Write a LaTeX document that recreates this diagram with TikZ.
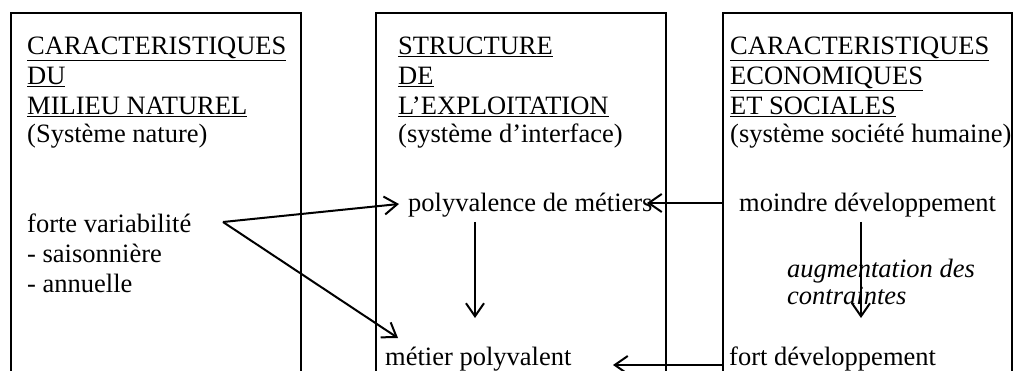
\documentclass[tikz,border=0pt]{standalone}
\usepackage{fontspec}
\setmainfont{Liberation Serif}
\usetikzlibrary{arrows.meta}
\begin{document}
\begin{tikzpicture}[x=1pt,y=-1pt,
 txt/.style={anchor=base west,inner sep=0pt,font=\fontsize{26.5}{30}\selectfont},
 ittxt/.style={anchor=base west,inner sep=0pt,font=\fontsize{26.5}{30}\selectfont\itshape},
 boxline/.style={line width=2.2pt},
 arr/.style={line width=2pt,-{Straight Barb[length=13pt,width=18pt,line width=2pt]}}]
\useasboundingbox (0,0) rectangle (1017,371);
\begin{scope}
\clip (0,0) rectangle (1017,371);
% boxes (open at the bottom)
\draw[boxline] (11,390) -- (11,13) -- (301,13) -- (301,390);
\draw[boxline] (376,390) -- (376,13) -- (666,13) -- (666,390);
\draw[boxline] (723,390) -- (723,13) -- (1012,13) -- (1012,390);

% box 1
\node[txt] (t1a) at (27,55) {\underline{CARACTERISTIQUES}};
\node[txt] (t1b) at (27,85) {\underline{DU}};
\node[txt] (t1c) at (27,115) {\underline{MILIEU NATUREL}};
\node[txt] (t1d) at (27,143) {(Système nature)};
\node[txt] (fv) at (27,233) {forte variabilité};
\node[txt] (sais) at (27,263) {- saisonnière};
\node[txt] (ann) at (27,292) {- annuelle};

% box 2
\node[txt] (t2a) at (398,55) {\underline{STRUCTURE}};
\node[txt] (t2b) at (398,85) {\underline{DE}};
\node[txt] (t2c) at (398,115) {\underline{L’EXPLOITATION}};
\node[txt] (t2d) at (398,143) {(système d’interface)};
\node[txt] (pm) at (408,212) {polyvalence de métiers};
\node[txt] (mp) at (385,365) {métier polyvalent};

% box 3
\node[txt] (t3a) at (730,55) {\underline{CARACTERISTIQUES}};
\node[txt] (t3b) at (730,85) {\underline{ECONOMIQUES}};
\node[txt] (t3c) at (730,115) {\underline{ET SOCIALES}};
\node[txt] (t3d) at (730,143) {(système société humaine)};
\node[txt] (md) at (739,212) {moindre développement};
\node[ittxt] (aug) at (787,277) {augmentation des};
\node[ittxt] (con) at (787,305) {contraintes};
\node[txt] (fd) at (729,365) {fort développement};

% connector points
\coordinate (fvp) at (223,222);
\coordinate (pmin) at (399,204);
\coordinate (mpin) at (398,338);
\coordinate (pmout) at (475,222);
\coordinate (mpin2) at (475,318);
\coordinate (mdout) at (723,203);
\coordinate (pmin2) at (647,203);
\coordinate (fdout) at (723,365);
\coordinate (mpin3) at (613,365);
\coordinate (mdbot) at (861,222);
\coordinate (fdtop) at (861,318);

\draw[arr] (fvp) -- (pmin);
\draw[arr] (fvp) -- (mpin);
\draw[arr] (pmout) -- (mpin2);
\draw[arr] (mdout) -- (pmin2);
\draw[arr] (fdout) -- (mpin3);
\draw[arr] (mdbot) -- (fdtop);
\end{scope}
\end{tikzpicture}
\end{document}
